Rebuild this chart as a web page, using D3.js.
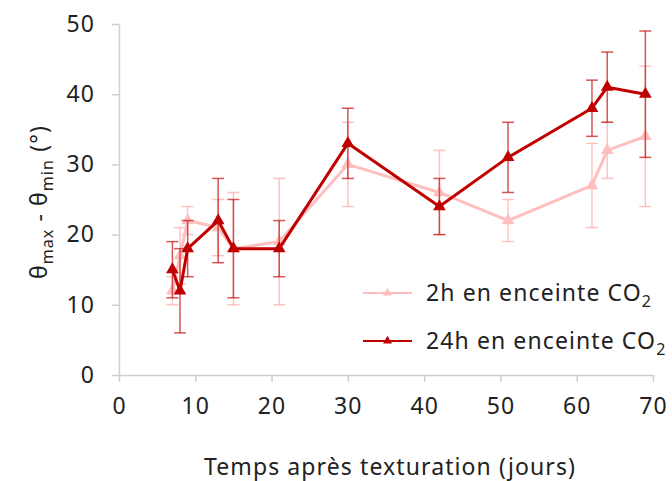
<!DOCTYPE html>
<html>
<head>
<meta charset="utf-8">
<script src="https://cdn.jsdelivr.net/npm/d3@7"></script>
<style>
  body { margin: 0; background: #fff; }
  svg text { font-family: "Noto Sans", sans-serif; fill: #222; letter-spacing: 1.1px; }
</style>
</head>
<body>
<div id="chart"></div>
<script>
// Data
var days = [7, 8, 9, 13, 15, 21, 30, 42, 51, 62, 64, 69];
var h2_values = [12, 17, 22, 21, 18, 19, 30, 26, 22, 27, 32, 34];
var h2_errors = [2, 4, 2, 4, 8, 9, 6, 6, 3, 6, 4, 10];
var h24_values = [15, 12, 18, 22, 18, 18, 33, 24, 31, 38, 41, 40];
var h24_errors = [4, 6, 4, 6, 7, 4, 5, 4, 5, 4, 5, 9];
var x_ticks = [0, 10, 20, 30, 40, 50, 60, 70];
var y_ticks = [0, 10, 20, 30, 40, 50];

var width = 672, height = 481;
var margin = {top: 24, right: 19, bottom: 106, left: 119};

var svg = d3.select("#chart").append("svg")
  .attr("width", width)
  .attr("height", height);

var x = d3.scaleLinear().domain([0, 70]).range([margin.left, width - margin.right]);
var y = d3.scaleLinear().domain([0, 50]).range([height - margin.bottom, margin.top]);

// Axes
var xAxis = svg.append("g")
  .attr("transform", "translate(0," + y(0) + ")")
  .call(d3.axisBottom(x).tickValues(x_ticks).tickSize(7).tickPadding(16).tickSizeOuter(0));
var yAxis = svg.append("g")
  .attr("transform", "translate(" + x(0) + ",0)")
  .call(d3.axisLeft(y).tickValues(y_ticks).tickSize(7).tickPadding(17).tickSizeOuter(0));

[xAxis, yAxis].forEach(function(a) {
  a.select(".domain").attr("stroke", "#cfcfcf").attr("stroke-width", 1.5);
  a.selectAll(".tick line").attr("stroke", "#cfcfcf").attr("stroke-width", 1.5);
  a.selectAll(".tick text").style("font-size", "23px").attr("fill", "#222");
});

// Axis titles
svg.append("text")
  .attr("x", 390).attr("y", 475)
  .attr("text-anchor", "middle")
  .style("font-size", "23px")
  .text("Temps après texturation (jours)");

var ylab = svg.append("text")
  .attr("transform", "translate(47," + 202 + ") rotate(-90)")
  .attr("text-anchor", "middle")
  .style("font-size", "23px");
ylab.append("tspan").text("θ");
ylab.append("tspan").attr("dy", 6).style("font-size", "16px").text("max");
ylab.append("tspan").attr("dy", -6).text(" - θ");
ylab.append("tspan").attr("dy", 6).style("font-size", "16px").text("min");
ylab.append("tspan").attr("dy", -6).text(" (°)");

var triangle = d3.symbol().type(d3.symbolTriangle).size(70);
var smallTriangle = d3.symbol().type(d3.symbolTriangle).size(35);

function drawSeries(values, errors, color, errColor) {
  var pts = days.map(function(d, i) { return {x: d, y: values[i], e: errors[i]}; });
  var g = svg.append("g");

  // error bars
  var eb = g.selectAll(".err").data(pts).enter().append("g")
    .attr("stroke", errColor).attr("stroke-width", 1.5);
  eb.append("line")
    .attr("x1", function(d) { return x(d.x); }).attr("x2", function(d) { return x(d.x); })
    .attr("y1", function(d) { return y(d.y - d.e); }).attr("y2", function(d) { return y(d.y + d.e); });
  eb.append("line")
    .attr("x1", function(d) { return x(d.x) - 6; }).attr("x2", function(d) { return x(d.x) + 6; })
    .attr("y1", function(d) { return y(d.y + d.e); }).attr("y2", function(d) { return y(d.y + d.e); });
  eb.append("line")
    .attr("x1", function(d) { return x(d.x) - 6; }).attr("x2", function(d) { return x(d.x) + 6; })
    .attr("y1", function(d) { return y(d.y - d.e); }).attr("y2", function(d) { return y(d.y - d.e); });

  // line
  g.append("path").datum(pts)
    .attr("fill", "none")
    .attr("stroke", color)
    .attr("stroke-width", 3)
    .attr("stroke-linejoin", "round")
    .attr("d", d3.line().x(function(d) { return x(d.x); }).y(function(d) { return y(d.y); }));

  // markers
  g.selectAll(".mk").data(pts).enter().append("path")
    .attr("d", triangle)
    .attr("fill", color)
    .attr("transform", function(d) { return "translate(" + x(d.x) + "," + y(d.y) + ")"; });
}

drawSeries(h2_values, h2_errors, "#ffbfbf", "rgba(255,170,170,0.7)");
drawSeries(h24_values, h24_errors, "#c00000", "rgba(200,30,30,0.75)");

// Legend
var legend = [
  {label: "2h en enceinte CO", color: "#ffbfbf", y: 293},
  {label: "24h en enceinte CO", color: "#c00000", y: 341}
];
legend.forEach(function(l) {
  var g = svg.append("g");
  g.append("line")
    .attr("x1", 363).attr("x2", 412).attr("y1", l.y).attr("y2", l.y)
    .attr("stroke", l.color).attr("stroke-width", 2);
  g.append("path").attr("d", smallTriangle).attr("fill", l.color)
    .attr("transform", "translate(387.5," + l.y + ")");
  var t = g.append("text")
    .attr("x", 426).attr("y", l.y + 8)
    .style("font-size", "23px");
  t.append("tspan").text(l.label);
  t.append("tspan").attr("dy", 6).style("font-size", "16px").text("2");
});
</script>
</body>
</html>
